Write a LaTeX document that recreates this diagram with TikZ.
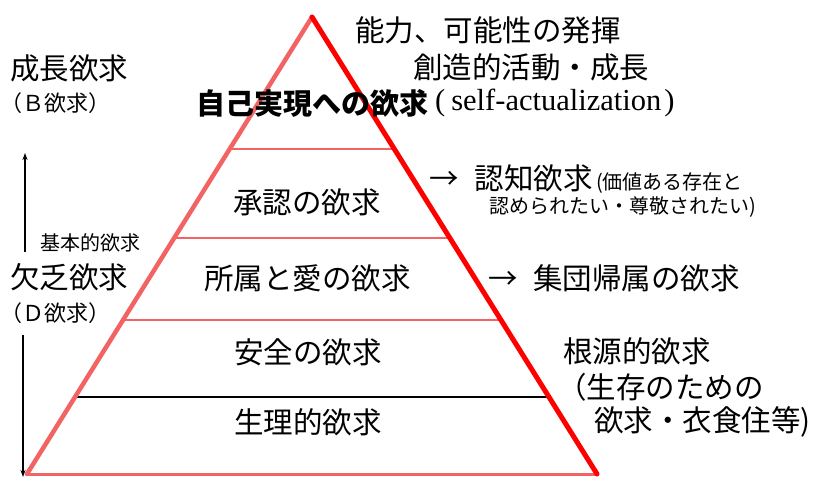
\documentclass[tikz,border=0pt]{standalone}
\usepackage{fontspec}
\setmainfont{Noto Sans CJK JP}
\newfontfamily\serif{Liberation Serif}
\usetikzlibrary{arrows.meta}
\definecolor{pinkred}{HTML}{F26464}
\definecolor{pureRed}{HTML}{FF0000}
\begin{document}
\begin{tikzpicture}[x=1pt,y=-1pt,
  big/.style={font=\fontsize{29.5}{31}\selectfont, inner sep=0pt, anchor=west},
  mid/.style={font=\fontsize{22}{24}\selectfont, inner sep=0pt, anchor=west},
  small/.style={font=\fontsize{20}{22}\selectfont, inner sep=0pt, anchor=west},
  pinkline/.style={draw=pinkred, line width=2pt},
  arr/.style={-{Stealth[length=7pt,width=5pt]}, line width=1.3pt}]
\useasboundingbox (0,0) rectangle (814,478);
% pyramid
\coordinate (apex) at (312,17);
\coordinate (bl) at (27,474);
\coordinate (br) at (597,474);
\foreach \yy/\nm in {149/a,238/b,320/c,397/d}{
  \coordinate (L\nm) at ({312-(\yy-17)*0.6236},\yy);
  \coordinate (R\nm) at ({312+(\yy-17)*0.6236},\yy);
}
\draw[pinkline] (La) -- (Ra);
\draw[pinkline] (Lb) -- (Rb);
\draw[pinkline] (Lc) -- (Rc);
\draw[black, line width=1.6pt] (Ld) -- (Rd);
\draw[draw=pinkred, line width=3pt] (bl) -- (br);
\draw[draw=pinkred, line width=4.5pt, line cap=round] (bl) -- (apex);
\draw[draw=pureRed, line width=5pt, line cap=round] (apex) -- (br);
% left arrows
\coordinate (upS) at (25,252);
\coordinate (upE) at (25,153);
\coordinate (dnS) at (23,335);
\coordinate (dnE) at (23,477);
\draw[arr] (upS) -- (upE);
\draw[arr] (dnS) -- (dnE);
% left texts
\node[big] (grow) at (10,68) {成長欲求};
\node[mid] (bneed) at (0,103) {（Ｂ欲求）};
\node[small] (basic) at (40,243) {基本的欲求};
\node[big] (lack) at (10,277) {欠乏欲求};
\node[mid] (dneed) at (0,313) {（Ｄ欲求）};
% pyramid labels
\node[big, font=\fontsize{29}{31}\selectfont\bfseries] (self) at (196,103) {自己実現への欲求};
\node[inner sep=0pt, anchor=west, font=\fontsize{30.5}{31}\serif] (selfen) at (435,103) {(\hspace{6pt}self-actualization\hspace{3pt})};
\node[big] (esteem) at (233,202) {承認の欲求};
\node[big] (love) at (204,278) {所属と愛の欲求};
\node[big] (safe) at (234,352) {安全の欲求};
\node[big] (phys) at (234,422) {生理的欲求};
% right texts
\node[big] (abil) at (355,30) {能力、可能性の発揮};
\node[big] (creat) at (413,67) {創造的活動・成長};
\node[big] (cog) at (429,178) {→\hspace{16pt}認知欲求};
\node[small, anchor=base west] (cog2) at ([xshift=3pt]cog.base east) {(価値ある存在と};
\node[small] (cog3) at (489,207) {認められたい・尊敬されたい)};
\node[big] (group) at (488,278) {→\hspace{15.5pt}集団帰属の欲求};
\node[big] (root) at (563,351) {根源的欲求};
\node[big] (root2) at (557,387) {（生存のための};
\node[big] (root3) at (594,422) {欲求・衣食住等)};
\end{tikzpicture}
\end{document}
